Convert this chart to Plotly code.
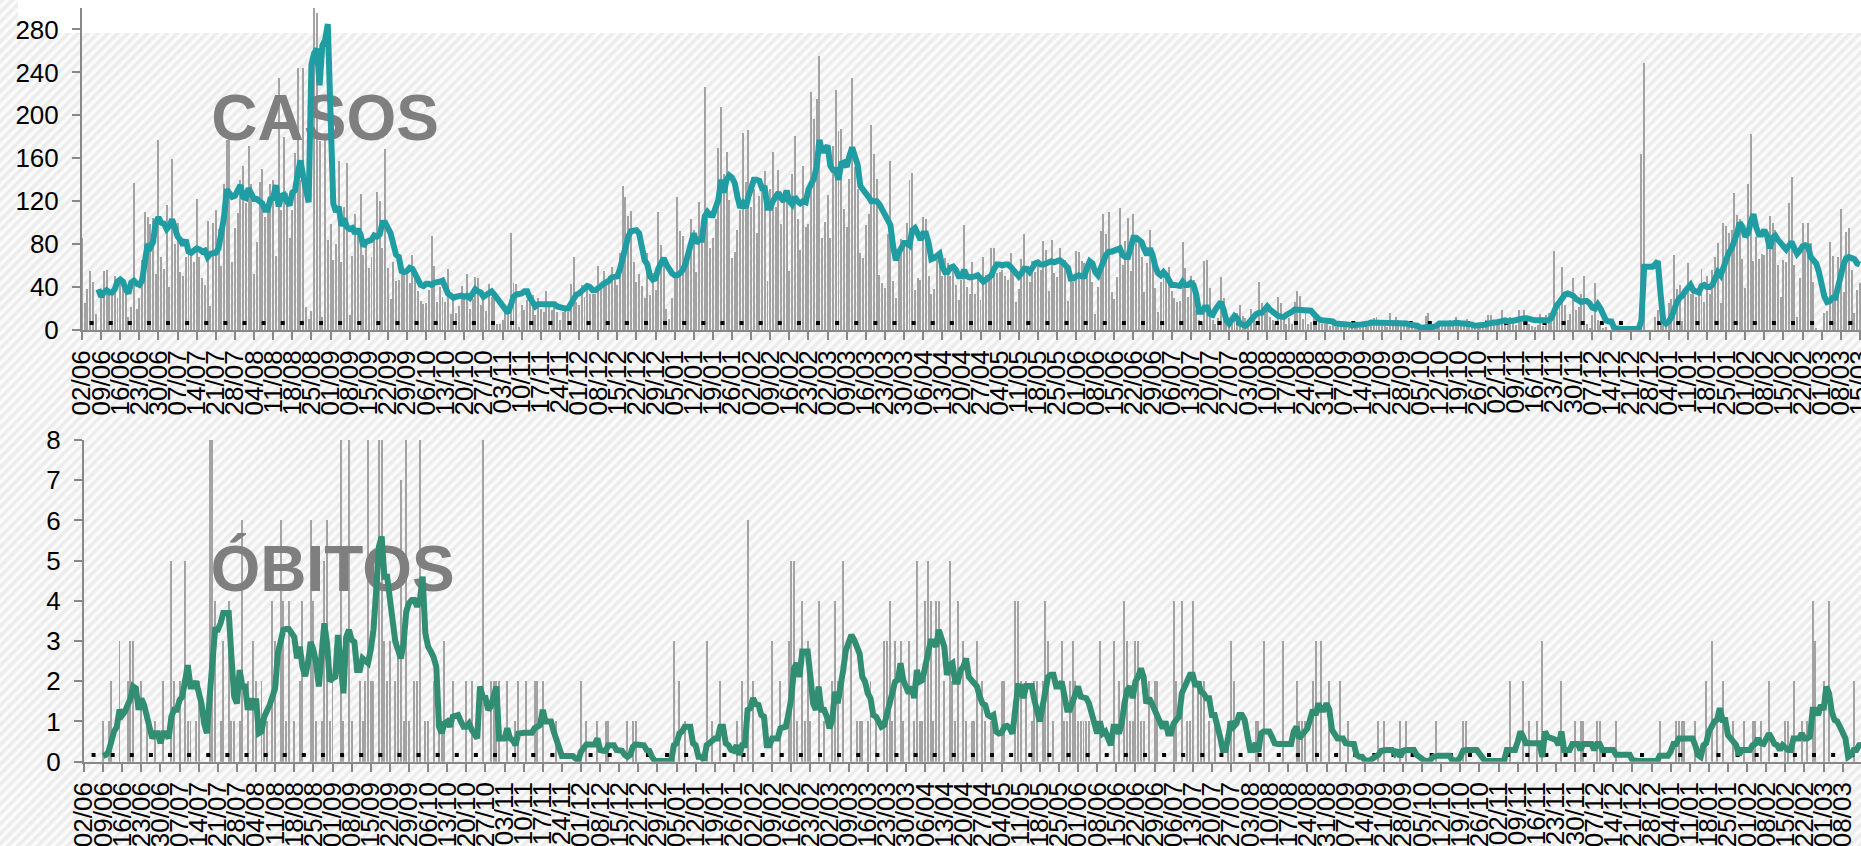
import base64
import pandas as pd
import plotly.graph_objects as go

casos_barras = [
86,25,38,55,45,15,0,30,55,56,
35,33,50,30,45,38,35,12,21,137,
20,30,65,110,105,99,104,52,177,68,
57,116,40,159,80,100,54,50,68,72,
70,63,122,68,48,42,102,22,100,112,
94,60,136,177,180,63,95,109,140,153,
118,171,136,52,82,138,150,105,115,136,
140,69,235,112,180,128,86,112,165,244,
140,244,21,10,18,300,295,176,12,178,
84,99,65,80,157,63,115,156,14,69,
108,90,127,70,80,58,68,90,129,120,
76,169,58,29,63,46,47,60,52,55,
44,70,55,36,27,24,25,37,88,60,
26,40,31,26,57,15,30,16,22,41,
30,52,20,29,49,48,23,28,18,43,
31,30,6,6,9,16,22,90,44,43,
3,23,19,28,25,33,14,30,20,17,
36,25,19,26,17,9,17,20,17,43,
68,26,23,42,31,40,34,34,34,60,
40,55,44,50,59,47,42,72,134,124,
106,111,63,45,52,41,30,72,33,53,
37,110,79,65,20,10,30,53,124,92,
88,65,72,103,93,54,119,87,226,112,
76,86,103,170,208,145,166,121,67,73,
93,112,184,138,186,115,131,90,125,131,
148,46,131,166,115,149,99,121,128,55,
145,181,103,75,153,96,99,222,197,215,
255,86,101,126,86,171,224,185,187,113,
96,141,235,152,131,72,67,98,108,191,
164,141,51,44,39,89,157,46,30,75,
85,82,100,140,146,37,48,47,105,103,
50,34,38,65,72,50,67,62,50,56,
42,28,47,98,40,34,63,34,53,28,
68,51,51,76,76,53,54,56,50,47,
72,53,26,38,66,89,59,45,64,54,
60,56,83,75,36,84,53,49,76,61,
65,27,47,45,74,73,64,62,54,59,
45,15,40,92,108,89,110,35,29,49,
114,61,83,104,55,108,87,84,68,35,
62,93,65,39,17,45,56,53,59,36,
30,26,27,82,58,31,50,47,19,9,
6,64,65,39,9,6,11,49,30,16,
8,6,11,16,23,13,11,8,20,16,
6,45,25,16,20,12,9,6,31,25,
9,6,11,6,26,36,32,10,16,6,
7,14,12,7,6,6,6,4,5,3,
6,3,5,3,2,1,6,3,2,5,
4,3,7,11,12,5,7,4,3,16,
8,12,9,7,8,6,4,3,2,1,
0,2,13,16,1,3,6,8,8,5,
7,9,4,12,6,8,5,10,3,4,
6,5,4,7,9,14,14,8,5,6,
19,9,8,12,8,5,19,7,19,8,
6,4,3,5,15,4,14,16,7,74,
17,22,59,23,9,15,48,19,21,34,
50,6,2,14,44,9,5,2,3,0,
0,2,0,0,0,0,0,0,0,0,
5,164,249,0,0,0,12,19,9,5,
8,25,29,70,38,42,8,34,62,34,
40,31,34,57,26,50,34,56,68,81,
25,100,97,90,93,128,107,103,66,39,
136,183,64,87,66,71,70,87,106,100,
93,61,31,65,63,118,143,61,12,48,
100,76,100,81,45,2,0,0,16,18,
82,69,28,68,113,35,91,95,56,16,
37,44]

casos_media = [
38,31,35,37,35,35,38,45,47,45,
38,34,44,46,43,42,46,65,80,77,
82,100,105,100,99,94,97,103,95,87,
84,79,84,73,72,75,76,75,73,74,
68,71,72,72,76,90,105,131,128,124,
125,132,135,124,123,132,127,122,122,120,
118,112,112,122,123,135,115,125,126,120,
116,128,130,146,158,143,130,119,247,258,
262,228,265,270,285,200,118,110,115,97,
104,96,94,95,90,94,89,78,82,83,
84,88,87,89,100,100,95,90,80,70,
68,55,54,55,58,57,52,47,42,41,
43,43,42,44,44,45,46,38,34,32,
30,31,32,32,31,32,30,35,38,36,
35,31,33,34,36,33,30,26,23,19,
16,23,31,33,33,34,36,36,30,25,
22,24,24,24,24,24,23,24,22,21,
21,20,20,25,30,33,34,37,39,41,
40,37,37,40,41,43,44,46,49,50,
50,57,68,79,87,92,93,93,90,78,
65,61,50,47,48,57,62,67,61,56,
53,51,51,53,56,62,72,84,90,81,
84,84,106,110,107,107,114,121,140,128,
140,144,142,137,124,114,118,114,124,134,
140,140,139,132,132,114,114,120,124,128,
123,120,130,120,117,124,120,118,120,119,
131,137,141,152,177,167,167,172,153,149,
149,140,155,156,152,162,170,162,154,134,
131,129,124,120,120,120,117,112,106,103,
98,78,65,72,76,81,81,79,93,95,
90,84,90,90,81,66,67,70,71,59,
54,54,58,59,56,50,50,56,50,49,
49,50,51,48,45,47,49,51,57,61,
61,60,61,61,59,56,51,50,53,57,
57,54,58,62,63,61,61,62,63,64,
63,64,65,63,61,58,48,48,50,51,
50,50,58,64,62,54,51,56,64,70,
73,73,74,74,76,70,68,68,76,86,
86,83,82,75,70,76,70,59,53,51,
54,51,45,42,42,42,41,45,42,42,
44,42,33,17,17,21,21,15,14,19,
24,26,19,9,6,11,13,11,6,5,
4,6,9,13,15,16,16,19,22,19,
16,15,13,13,12,14,15,17,19,19,
19,19,19,19,18,15,12,10,9,9,
9,8,8,6,6,6,6,6,5,4,
5,5,5,5,6,6,7,7,7,6,
6,6,6,7,7,7,7,7,7,6,
5,5,5,4,2,2,2,2,2,3,
4,6,6,6,5,5,6,7,6,6,
6,6,6,5,4,4,5,5,5,6,
7,7,7,8,8,9,8,8,8,9,
10,11,11,11,10,9,9,9,9,8,
8,9,11,19,23,26,30,33,34,33,
32,29,28,26,27,27,25,21,20,24,
20,14,9,8,8,2,1,1,1,1,
1,1,1,1,1,9,59,59,59,59,
61,64,34,8,6,8,12,20,26,30,
32,36,40,42,37,36,35,41,42,40,
40,42,47,54,51,59,65,72,76,82,
90,100,96,87,90,100,108,96,89,89,
93,88,76,86,88,84,80,78,75,78,
82,76,71,74,78,79,78,68,65,62,
54,40,31,26,27,30,30,40,54,61,
67,68,67,66,62,61]

obitos_media = [
.14,.17,.25,.58,.75,.87,1.29,1.16,1.25,1.41,
1.57,1.87,1.82,1.29,1.57,1.41,1.12,.87,.58,.71,
.71,.46,.71,.71,.58,1.12,1.29,1.29,1.53,1.62,
2.11,2.4,1.87,1.87,2,1.78,1.45,.95,.71,1.6,
2.53,3.28,3.28,3.44,3.7,3.7,3.7,2.6,1.62,1.45,
2.28,1.87,1.87,1.29,1.57,1.29,1.57,.71,.75,1.12,
1.25,1.41,1.62,1.82,2.7,2.94,3.28,3.3,3.3,3.2,
3.1,2.57,2.86,2.36,2.13,2.45,2.98,2.78,2.45,1.87,
2.53,3.44,2.94,2,2.07,2.11,3.15,2.28,1.7,3.1,
3.28,3.03,2.98,2.28,2.28,2.57,2.53,2.45,2.78,3.28,
4.27,5.35,5.6,4.6,4.6,4.1,3.6,2.98,2.78,2.57,
2.94,3.73,3.94,4.02,4.02,3.86,4.02,4.6,3.19,2.86,
2.74,2.6,2.36,.87,.71,.95,1,.87,1.12,1.16,
1.16,1,.87,.87,.95,.79,.71,.58,1.87,1.62,
1.6,1.29,1.37,1.7,1.87,.58,.58,.58,.83,.58,
.54,.41,.7,.72,.72,.72,.72,.72,.83,.87,
.91,1.29,1,1,1,.75,.58,.37,.14,.14,
.14,.14,.14,.08,.04,.25,.33,.43,.43,.43,
.43,.58,.29,.27,.27,.41,.41,.41,.29,.27,
.27,.17,.12,.17,.37,.43,.43,.43,.41,.29,
.27,.12,.02,.02,.02,.02,.02,.02,.02,.41,
.46,.7,.75,.87,.87,.87,.46,.41,.12,.12,
.04,.41,.46,.54,.58,.58,.87,.87,.46,.41,
.29,.27,.41,.17,.41,.41,1.29,1.33,1.58,1.43,
1.41,1.16,1.12,.41,.41,.58,.58,.58,.83,.87,
.87,1.2,1.58,2.32,2.45,2.11,2.74,2.74,2.74,2.11,
1.45,1.29,1.87,1.29,1.29,1.12,.83,1.04,1.74,1.45,
1.78,2.28,2.78,2.99,3.15,3.03,2.86,2.69,2.11,1.99,
1.7,1.58,1.16,1.12,1,.87,.91,1.2,1.53,1.7,
1.99,2.03,2.45,2.03,1.87,1.7,1.87,1.58,2.28,1.99,
2.03,2.36,2.61,2.99,2.99,2.86,3.28,3.11,2.86,2.16,
2.4,2.45,1.99,1.99,2.28,2.36,2.57,2.11,2.03,1.99,
1.87,1.62,1.45,1.41,1.16,1.12,1.16,.75,.7,.72,
.87,.89,.83,.7,1.29,1.88,1.87,1.58,1.88,1.88,
1.88,1.53,1.29,1,1.37,1.7,2.11,2.16,2.16,1.87,
1.87,1.99,1.66,1.29,1.29,1.49,1.7,1.87,1.62,1.58,
1.58,1.45,1.16,.91,.7,1,.7,.75,.62,.41,
.87,.87,.7,.95,1.45,1.78,1.87,1.58,1.99,2.11,
2.32,2.11,1.45,1.58,1.45,1.29,1.12,.95,.83,1,
.7,.7,.95,1.04,1.12,1.7,1.87,2.03,2.16,2.16,
1.87,1.99,1.74,1.7,1.58,1.58,1.16,1.16,.95,.62,
.29,.29,.62,1,.87,.95,1.16,1.16,1.04,.7,
.29,.29,.46,.25,.7,.75,.75,.75,.62,.46,
.44,.44,.44,.44,.44,.44,.75,.87,.58,.7,
.75,.83,1.12,1.29,1.16,1.45,1.29,1.29,1.45,1.29,
.79,.7,.58,.58,.58,.46,.44,.44,.44,.17,
.12,.12,.04,.02,.04,.08,.12,.17,.27,.29,
.29,.29,.29,.2,.29,.12,.27,.29,.29,.29,
.29,.17,.12,.04,.02,.02,.04,.12,.15,.15,
.15,.15,.15,.15,.04,.02,.02,.12,.27,.29,
.29,.29,.29,.29,.2,.08,.02,.02,.02,.02,
.02,.02,.02,.02,.29,.29,.29,.29,.5,.75,
.62,.46,.46,.46,.46,.46,.46,.12,.75,.62,
.58,.58,.54,.41,.75,.29,.29,.29,.44,.44,
.44,.29,.44,.44,.44,.44,.29,.44,.44,.29,
.29,.29,.29,.29,.17,.17,.17,.17,.17,.17,
.04,.02,.02,.02,.02,.02,.02,.02,.02,.02,
.15,.15,.15,.15,.25,.44,.44,.58,.58,.58,
.58,.58,.58,.41,.17,.12,.41,.46,.75,.87,
1,1.04,1.33,1.04,1.04,.66,.58,.46,.41,.17,
.29,.29,.29,.29,.41,.44,.58,.46,.44,.58,
.7,.58,.44,.41,.29,.41,.33,.29,.29,.58,
.58,.58,.7,.58,.58,.62,1.29,1.29,1.16,1.41,
1.29,1.87,1.7,1.24,1.04,1,.87,.7,.58,.12,
.17,.29,.29,.41,.41]

# Dias (desde 02/06/2020) com óbitos registados e respetivos valores
obitos_dias = [
7,9,10,13,16,17,18,21,23,26,29,32,33,35,37,38,39,41,42,46,47,48,50,51,53,54,55,57,58,60,
62,63,65,66,67,69,70,72,73,74,75,77,79,80,83,84,85,87,88,89,90,91,94,95,97,98,101,102,103,104,
105,106,108,109,110,111,112,114,115,116,117,118,119,121,122,123,125,126,128,130,131,132,135,140,142,146,150,152,
149,151,155,158,159,162,165,166,168,173,182,184,188,191,192,199,201,202,216,218,220,228,230,233,239,241,243,245,
252,255,258,259,260,261,263,264,265,266,269,271,274,275,276,278,281,283,284,285,287,288,290,293,294,295,296,297,
299,300,302,304,305,306,307,308,309,310,311,312,313,315,317,318,319,320,322,323,325,326,327,329,330,332,333,336,337,
341,342,343,345,347,348,349,351,352,353,355,358,359,360,361,362,363,364,365,366,367,368,372,377,379,381,382,383,384,385,
386,387,388,390,392,393,399,400,402,404,405,406,408,409,410,412,414,419,420,421,429,430,432,439,444,445,446,447,450,451,
453,456,460,463,474,476,482,484,495,505,506,522,527,529,532,534,541,546,548,549,554,555,561,577,583,584,585,586,590,594,
596,598,600,604,608,611,612,614,617,623,624,626,629,631,633,634,637,639,648]
obitos_valores = [
1,1,2,3,2,3,3,2,1,1,2,5,2,2,5,1,1,1,2,8,8,4,1,3,4,1,1,1,6,2,
3,2,2,1,1,4,3,6,4,1,4,1,2,4,6,4,1,1,5,6,1,2,8,1,8,1,2,1,2,8,
2,2,8,8,3,2,3,2,3,7,1,8,1,2,2,8,1,1,2,1,1,3,2,2,2,8,2,2,
2,2,2,1,2,2,2,2,2,1,2,1,1,1,1,1,1,1,3,2,1,3,1,2,1,2,6,2,
3,2,3,5,5,1,4,1,3,1,4,1,2,4,2,5,3,1,1,1,1,2,1,3,3,4,1,3,
3,1,3,1,5,1,1,4,5,4,1,4,4,2,5,2,1,4,3,1,1,1,3,2,1,1,1,2,2,
4,4,2,2,1,2,2,2,4,3,1,3,1,1,2,3,2,1,1,1,1,1,3,3,2,4,3,1,1,3,
3,1,1,2,2,2,4,2,4,1,1,4,2,2,2,1,1,1,3,2,1,1,3,3,2,1,1,1,2,3,
3,2,2,1,1,1,1,1,1,1,1,2,2,1,1,3,2,1,1,1,1,1,1,1,1,1,1,1,1,2,
3,1,2,1,1,1,1,1,2,1,1,2,1,1,4,3,2,4,2]

inicio = "2020-06-02"
n_dias = 652
datas = pd.date_range(inicio, periods=n_dias, freq="D")
semanas = pd.date_range(inicio, periods=94, freq="7D")
rotulos = [d.strftime("%d/%m") for d in semanas]
pontos = semanas[:-1] + pd.Timedelta(hours=84)
limite = pd.Timestamp(inicio) + pd.Timedelta(days=651.4)
limite2 = pd.Timestamp(inicio) + pd.Timedelta(days=650.7)

assert len(casos_barras) == n_dias, len(casos_barras)
assert len(casos_media) == n_dias - 6, len(casos_media)
assert len(obitos_media) == n_dias - 7, len(obitos_media)
assert len(obitos_dias) == len(obitos_valores), (len(obitos_dias), len(obitos_valores))

CINZA_EIXO = "#888888"
CINZA_BARRA = "#a3a3a3"
TEAL = "#1f9da2"
VERDE = "#318e72"
LARG_BARRA = 0.36 * 86400000

svg = """<svg xmlns='http://www.w3.org/2000/svg' width='1861' height='846'>
<defs><pattern id='h' width='7' height='7' patternUnits='userSpaceOnUse' patternTransform='rotate(-45)'>
<rect width='7' height='7' fill='#fbfbfb'/><rect width='7' height='3.5' fill='#ececec'/></pattern></defs>
<rect width='1861' height='846' fill='url(#h)'/><rect x='18' y='0' width='1843' height='33' fill='#ffffff'/></svg>"""
fundo = "data:image/svg+xml;base64," + base64.b64encode(svg.encode()).decode()

fig = go.Figure()
fig.add_trace(go.Bar(x=datas, y=casos_barras, width=LARG_BARRA, marker=dict(color=CINZA_BARRA, line_width=0),
                     xaxis="x", yaxis="y", showlegend=False))
dias_ob = [datas[d] for d in obitos_dias]
fig.add_trace(go.Bar(x=dias_ob, y=obitos_valores, width=LARG_BARRA, marker=dict(color=CINZA_BARRA, line_width=0),
                     xaxis="x2", yaxis="y2", showlegend=False))

for eixo_x, eixo_y, linhas in [("x", "y", [6.5, -2.8, -11.2]), ("x2", "y2", [0.167, -0.065, -0.31])]:
    for nivel in linhas:
        fig.add_trace(go.Scatter(x=pontos, y=[nivel] * len(pontos), mode="markers", cliponaxis=False,
                                 marker=dict(symbol="square", size=4, color="#000000"),
                                 xaxis=eixo_x, yaxis=eixo_y, showlegend=False))

fig.add_trace(go.Scatter(x=[datas[89]], y=[192], mode="text", text=["CASOS"], cliponaxis=False,
                         textfont=dict(family="Liberation Sans", size=64, color="#7f7f7f", weight="bold"),
                         xaxis="x", yaxis="y", showlegend=False))
fig.add_trace(go.Scatter(x=[datas[91]], y=[4.65], mode="text", text=["ÓBITOS"], cliponaxis=False,
                         textfont=dict(family="Liberation Sans", size=64, color="#7f7f7f", weight="bold"),
                         xaxis="x2", yaxis="y2", showlegend=False))

fig.add_trace(go.Scatter(x=datas[6:], y=casos_media, mode="lines", line=dict(color=TEAL, width=6),
                         xaxis="x", yaxis="y", showlegend=False))
fig.add_trace(go.Scatter(x=datas[7:], y=obitos_media, mode="lines", line=dict(color=VERDE, width=6),
                         xaxis="x2", yaxis="y2", showlegend=False))

eixo_comum = dict(showgrid=False, zeroline=False, showline=True, linecolor=CINZA_EIXO, linewidth=2,
                  ticks="outside", ticklen=8, tickwidth=2, tickcolor=CINZA_EIXO, automargin=False)
eixo_datas = dict(eixo_comum, type="date", tickvals=list(semanas), ticktext=rotulos, tickangle=-90,
                  tickfont=dict(family="Liberation Sans", size=26, color="#000000"),
                  ticklabeloverflow="allow")
eixo_val = dict(eixo_comum, tickfont=dict(family="Liberation Sans", size=26, color="#000000"), ticklabelstandoff=8)

fig.update_layout(
    width=1861, height=846, margin=dict(l=0, r=0, t=0, b=0, pad=0, autoexpand=False),
    paper_bgcolor="#ffffff", plot_bgcolor="rgba(0,0,0,0)", bargap=0, barmode="overlay",
    images=[dict(source=fundo, xref="paper", yref="paper", x=0, y=1, sizex=1, sizey=1,
                 sizing="stretch", layer="below", xanchor="left", yanchor="top")],
    xaxis=dict(eixo_datas, domain=[82 / 1861, 1], range=[datas[0], limite], anchor="y"),
    yaxis=dict(eixo_val, domain=[516 / 846, 838 / 846], range=[0, 300], tickvals=list(range(0, 281, 40)), anchor="x"),
    xaxis2=dict(eixo_datas, domain=[84 / 1861, 1], range=[datas[0], limite2], anchor="y2"),
    yaxis2=dict(eixo_val, domain=[84.3 / 846, 406 / 846], range=[0, 8], tickvals=list(range(0, 9)), anchor="x2"),
)

fig.write_html("out.html", config=dict(displayModeBar=False),
               post_script="document.body.style.margin='0';document.documentElement.style.overflow='hidden';")
